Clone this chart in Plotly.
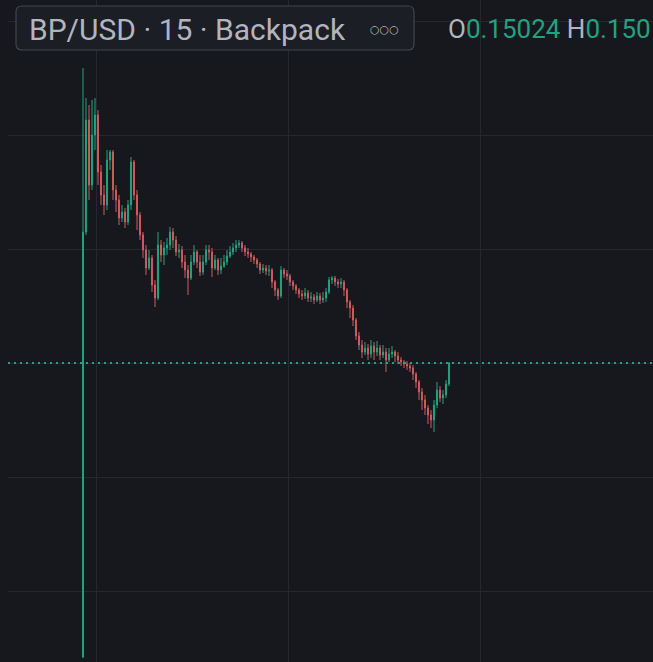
import plotly.graph_objects as go

# ---- data ----
bar_index = list(range(123))

closes = [0.1762, 0.1986, 0.1856, 0.1956, 0.1996, 0.1882, 0.1836, 0.1816, 0.1906, 0.1922,
          0.1846, 0.1826, 0.1790, 0.1802, 0.1782, 0.1816, 0.1902, 0.1836, 0.1796, 0.1756,
          0.1726, 0.1690, 0.1710, 0.1656, 0.1630, 0.1736, 0.1716, 0.1730, 0.1736, 0.1762,
          0.1746, 0.1722, 0.1726, 0.1702, 0.1686, 0.1670, 0.1702, 0.1722, 0.1702, 0.1682,
          0.1702, 0.1726, 0.1722, 0.1690, 0.1706, 0.1686, 0.1694, 0.1702, 0.1714, 0.1722,
          0.1730, 0.1736, 0.1740, 0.1730, 0.1722, 0.1718, 0.1712, 0.1706, 0.1698, 0.1686,
          0.1690, 0.1684, 0.1686, 0.1662, 0.1646, 0.1634, 0.1686, 0.1678, 0.1674, 0.1662,
          0.1654, 0.1646, 0.1638, 0.1634, 0.1640, 0.1630, 0.1632, 0.1626, 0.1634, 0.1626,
          0.1630, 0.1642, 0.1666, 0.1670, 0.1662, 0.1658, 0.1662, 0.1646, 0.1622, 0.1610,
          0.1586, 0.1554, 0.1536, 0.1522, 0.1530, 0.1518, 0.1534, 0.1522, 0.1530, 0.1516,
          0.1522, 0.1506, 0.1518, 0.1522, 0.1514, 0.1506, 0.1502, 0.1498, 0.1494, 0.1490,
          0.1478, 0.1462, 0.1442, 0.1426, 0.1410, 0.1396, 0.1386, 0.1416, 0.1446, 0.1430,
          0.1436, 0.1458, 0.1500]

highs = [0.2090, 0.2030, 0.2016, 0.2026, 0.2030, 0.2006, 0.1896, 0.1856, 0.1926, 0.1926,
         0.1926, 0.1856, 0.1836, 0.1816, 0.1810, 0.1826, 0.1912, 0.1906, 0.1846, 0.1802,
         0.1762, 0.1736, 0.1726, 0.1716, 0.1666, 0.1762, 0.1746, 0.1742, 0.1750, 0.1772,
         0.1770, 0.1754, 0.1738, 0.1734, 0.1716, 0.1696, 0.1716, 0.1736, 0.1726, 0.1716,
         0.1716, 0.1736, 0.1736, 0.1730, 0.1716, 0.1710, 0.1710, 0.1716, 0.1726, 0.1734,
         0.1740, 0.1746, 0.1746, 0.1744, 0.1736, 0.1730, 0.1722, 0.1716, 0.1710, 0.1702,
         0.1698, 0.1696, 0.1696, 0.1690, 0.1666, 0.1650, 0.1694, 0.1690, 0.1686, 0.1678,
         0.1666, 0.1658, 0.1650, 0.1646, 0.1650, 0.1646, 0.1642, 0.1638, 0.1642, 0.1640,
         0.1642, 0.1650, 0.1672, 0.1674, 0.1674, 0.1668, 0.1670, 0.1666, 0.1650, 0.1626,
         0.1616, 0.1590, 0.1562, 0.1546, 0.1542, 0.1538, 0.1546, 0.1542, 0.1544, 0.1536,
         0.1536, 0.1530, 0.1530, 0.1534, 0.1526, 0.1522, 0.1512, 0.1506, 0.1504, 0.1500,
         0.1496, 0.1482, 0.1466, 0.1450, 0.1436, 0.1416, 0.1406, 0.1426, 0.1462, 0.1454,
         0.1446, 0.1466, 0.1502]

lows = [0.0910, 0.1756, 0.1826, 0.1846, 0.1926, 0.1856, 0.1816, 0.1796, 0.1806, 0.1886,
        0.1826, 0.1802, 0.1776, 0.1782, 0.1770, 0.1776, 0.1806, 0.1826, 0.1766, 0.1746,
        0.1710, 0.1676, 0.1686, 0.1642, 0.1612, 0.1626, 0.1702, 0.1696, 0.1716, 0.1726,
        0.1730, 0.1714, 0.1710, 0.1690, 0.1670, 0.1636, 0.1666, 0.1696, 0.1690, 0.1674,
        0.1676, 0.1696, 0.1706, 0.1672, 0.1686, 0.1676, 0.1678, 0.1690, 0.1696, 0.1710,
        0.1716, 0.1722, 0.1730, 0.1722, 0.1714, 0.1710, 0.1702, 0.1698, 0.1690, 0.1678,
        0.1680, 0.1676, 0.1674, 0.1650, 0.1634, 0.1626, 0.1630, 0.1670, 0.1666, 0.1654,
        0.1646, 0.1638, 0.1630, 0.1626, 0.1628, 0.1622, 0.1622, 0.1618, 0.1622, 0.1618,
        0.1620, 0.1622, 0.1638, 0.1658, 0.1654, 0.1650, 0.1650, 0.1634, 0.1610, 0.1590,
        0.1574, 0.1546, 0.1526, 0.1510, 0.1516, 0.1506, 0.1510, 0.1506, 0.1514, 0.1506,
        0.1510, 0.1482, 0.1502, 0.1510, 0.1502, 0.1498, 0.1494, 0.1490, 0.1486, 0.1482,
        0.1466, 0.1450, 0.1426, 0.1406, 0.1396, 0.1378, 0.1370, 0.1362, 0.1410, 0.1422,
        0.1418, 0.1430, 0.1454]

first_open = 0.0912
opens = [first_open] + closes[:-1]   # each bar opens at the previous close

symbol_title = "BP/USD · 15 · Backpack"
legend_open = "0.15024"
legend_high = "0.150"

# ---- styling ----
BG = "#17181d"
GRID = "#27282d"
UP = "#22a27e"
DOWN = "#cd5b60"
TEXT = "#b2b5be"

W, H = 653, 662
L = 8  # left margin in px

fig = go.Figure()
fig.add_trace(go.Candlestick(
    x=bar_index, open=opens, high=highs, low=lows, close=closes,
    increasing=dict(line=dict(color=UP, width=1), fillcolor=UP),
    decreasing=dict(line=dict(color=DOWN, width=1), fillcolor=DOWN),
    whiskerwidth=0, hoverinfo="skip", showlegend=False,
))

# axis ranges: 3 px per bar, first bar at px 83
px_per_bar = 3.0
x0 = -(83 - L) / px_per_bar
x1 = x0 + (W - L) / px_per_bar
y_top = 0.2226
y_bot = 0.2226 - 0.0002 * H

fig.update_xaxes(range=[x0, x1], showgrid=True, gridcolor=GRID, gridwidth=1,
                 tick0=(96 - 83) / px_per_bar, dtick=64, showticklabels=False,
                 zeroline=False, showline=False, rangeslider=dict(visible=False),
                 fixedrange=True)
fig.update_yaxes(range=[y_bot, y_top], showgrid=True, gridcolor=GRID, gridwidth=1,
                 tick0=0.15, dtick=0.0228, showticklabels=False, zeroline=False,
                 showline=False, fixedrange=True)

# last price dotted line
fig.add_shape(type="line", xref="paper", yref="y", x0=0, x1=1,
              y0=closes[-1], y1=closes[-1],
              line=dict(color=UP, width=2, dash="2px,4px"))

# header box with rounded corners (paper coords)
def px2x(p):
    return (p - L) / (W - L)

def py2y(p):
    return 1 - p / H

bx0, bx1, by0, by1, r = 16, 414, 6, 50, 6
rx, ry = r / (W - L), r / H
X0, X1, Y0, Y1 = px2x(bx0), px2x(bx1), py2y(by1), py2y(by0)
path = (f"M {X0+rx},{Y1} L {X1-rx},{Y1} Q {X1},{Y1} {X1},{Y1-ry} "
        f"L {X1},{Y0+ry} Q {X1},{Y0} {X1-rx},{Y0} L {X0+rx},{Y0} "
        f"Q {X0},{Y0} {X0},{Y0+ry} L {X0},{Y1-ry} Q {X0},{Y1} {X0+rx},{Y1} Z")
fig.add_shape(type="path", xref="paper", yref="paper", path=path,
              fillcolor="#1c1e25", line=dict(color="#42454e", width=1.2))

FONT = "Roboto, sans-serif"
fig.add_annotation(xref="paper", yref="paper", x=px2x(27), y=py2y(29),
                   xanchor="left", yanchor="middle", showarrow=False,
                   text=symbol_title,
                   font=dict(family=FONT, size=30, color=TEXT))
fig.add_annotation(xref="paper", yref="paper", x=px2x(368), y=py2y(29),
                   xanchor="left", yanchor="middle", showarrow=False,
                   text="○○○", font=dict(family="DejaVu Sans", size=11, color=TEXT))
fig.add_annotation(xref="paper", yref="paper", x=px2x(446), y=py2y(29),
                   xanchor="left", yanchor="middle", showarrow=False,
                   text=f"O<span style='color:{UP}'>{legend_open}</span> "
                        f"H<span style='color:{UP}'>{legend_high}</span>",
                   font=dict(family=FONT, size=26, color=TEXT))

fig.update_layout(
    width=W, height=H, margin=dict(l=L, r=0, t=0, b=0),
    paper_bgcolor=BG, plot_bgcolor=BG, showlegend=False,
    hovermode=False, boxgap=0.5,
)

fig.write_html(
    "out.html",
    config=dict(displayModeBar=False, staticPlot=True),
    post_script=f"document.body.style.margin='0';document.body.style.background='{BG}';",
)
